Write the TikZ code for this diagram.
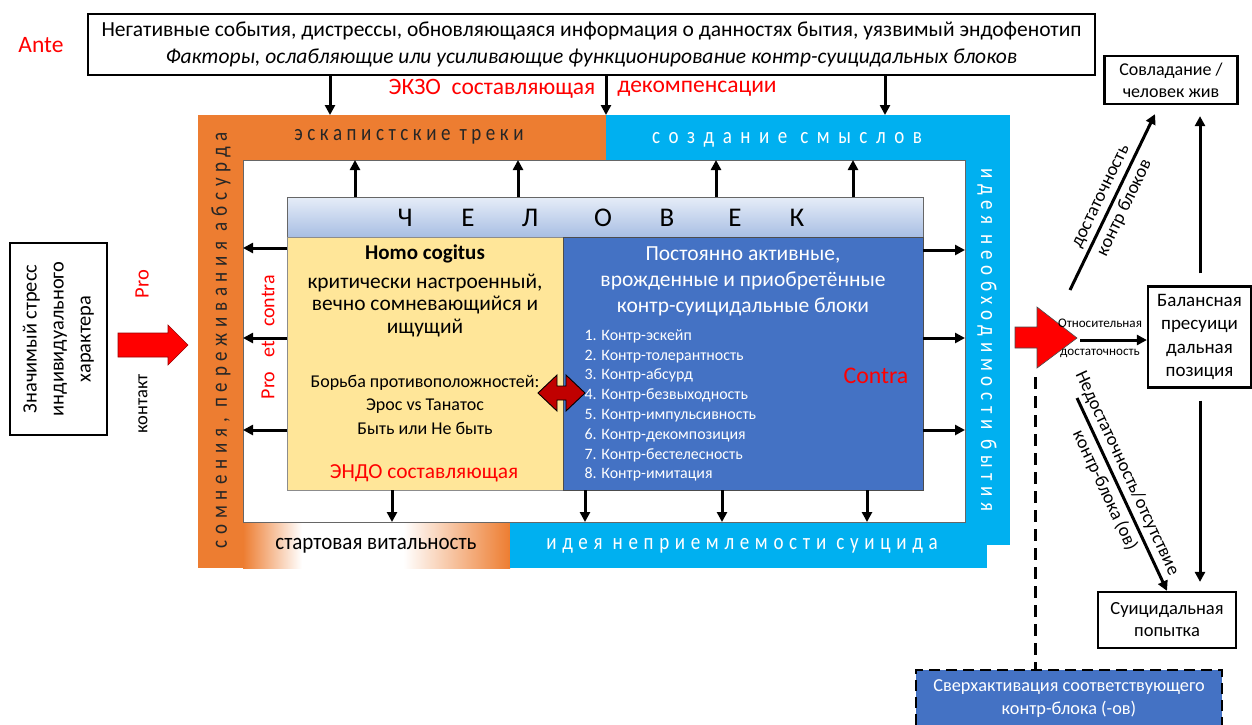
\documentclass[tikz,border=0pt]{standalone}
\usepackage{fontspec}
\setmainfont{Carlito}
\newfontfamily\spaced[LetterSpace=30]{Carlito}
\newfontfamily\spacedn[LetterSpace=24]{Carlito}
\newfontfamily\spacedw[LetterSpace=45]{Carlito}
\usetikzlibrary{arrows.meta}
\definecolor{orng}{HTML}{ED7D31}
\definecolor{cyn}{HTML}{00B0F0}
\definecolor{blu}{HTML}{4472C4}
\definecolor{ylw}{HTML}{FFE699}
\definecolor{hdrtop}{HTML}{E6EDF8}
\definecolor{hdrbot}{HTML}{A8BEE3}
\definecolor{dred}{HTML}{C00000}
\definecolor{bandtxt}{HTML}{262626}
\pgfdeclarehorizontalshading{vitshade}{100bp}{color(0bp)=(orng); color(25bp)=(orng); color(36bp)=(white); color(55bp)=(white); color(75bp)=(orng); color(100bp)=(orng)}
\newcommand\fsz[2]{\fontsize{#1}{#2}\selectfont}
\begin{document}
\begin{tikzpicture}[x=1pt,y=-1pt,
  arr/.style={line width=3pt,-{Triangle[length=10pt,width=10pt]}},
  wbox/.style={draw=black,line width=2.2pt,fill=white,align=center,inner sep=0pt},
  band/.style={inner sep=0pt,outer sep=0pt,draw=none},
  inbox/.style={inner sep=0pt,outer sep=0pt,line width=0.8pt},
  redtxt/.style={text=red},
  spc/.style={font=\spaced\fsz{19}{22}, yscale=1.2},
  spcv/.style={font=\spaced\fsz{19}{22}, xscale=1.2},
  spcn/.style={font=\spacedn\fsz{19}{22}, yscale=1.2},
  spcw/.style={font=\spacedw\fsz{19}{22}, yscale=1.2}]
\useasboundingbox (0,0) rectangle (1252,724);
\fill[white] (0,0) rectangle (1252,724);

% ---------- top box ----------
\node[wbox, minimum width=1007, minimum height=61, font=\fsz{21.5}{27}] (top) at (591.5,44.5)
  {Негативные события, дистрессы, обновляющаяся информация о данностях бытия, уязвимый эндофенотип\\
   \textit{Факторы, ослабляющие или усиливающие функционирование контр-суицидальных блоков}};
\node[redtxt, font=\fsz{23.5}{27}] (ante) at (41,45) {Ante};
\node[redtxt, font=\fsz{23.5}{27}] (exo) at (492,89) {ЭКЗО\ \ составляющая};
\node[redtxt, font=\fsz{23.5}{27}] (decomp) at (697,89) {декомпенсации};

% ---------- frame ----------
\node[band, shading=vitshade, minimum width=267, minimum height=46] (vit) at (376.5,545) {};
\node[band, fill=cyn, minimum width=477, minimum height=46] (idea) at (748.5,545) {};
\node[band, fill=cyn, minimum width=45, minimum height=430] (rband) at (987.5,330) {};
\node[band, fill=orng, minimum width=408, minimum height=45] (esc) at (402,137.5) {};
\node[band, fill=cyn, minimum width=404, minimum height=45] (sense) at (808,137.5) {};
\node[band, fill=orng, minimum width=45, minimum height=453] (lband) at (220.5,341.5) {};
\draw[black!60, line width=0.7pt] (243,160) rectangle (965,522);

\node[spcn, text=bandtxt] (escT) at (409,137) {эскапистские треки};
\node[spcw, text=white] (senseT) at (787,140) {создание смыслов};
\node[spcv, rotate=90, text=bandtxt] (lbandT) at (221,340) {сомнения, переживания абсурда};
\node[spcv, rotate=-90, text=white] (rbandT) at (987,340) {идея необходимости бытия};
\node[spc, text=white] (ideaT) at (742,546) {идея неприемлемости суицида};
\node[font=\fsz{21}{24}, yscale=1.1] (vitT) at (376,546) {стартовая витальность};

% ---------- person ----------
\node[inbox, draw=black!60, top color=hdrtop, bottom color=hdrbot, minimum width=636, minimum height=40] (hdr) at (605,217) {};
\foreach \x/\l [count=\i] in {405/Ч,468/Е,530/Л,603/О,667/В,735/Е,797/К}
  \node[font=\fsz{27}{30}] (hl\i) at (\x,218) {\l};
\node[inbox, draw=black!45, fill=ylw, minimum width=276, minimum height=253] (yel) at (425,363.5) {};
\node[inbox, draw=black!70, fill=blu, minimum width=360, minimum height=253] (blu) at (743,363.5) {};

\node[font=\bfseries\fsz{21}{24}] (homo) at (425,254) {Homo cogitus};
\node[align=center, font=\fsz{21.4}{22.5}] (crit) at (425,305.5) {критически настроенный,\\вечно сомневающийся и\\ищущий};
\node[align=center, font=\fsz{18}{23.5}] (fight) at (425,404.5) {Борьба противоположностей:\\Эрос vs Танатос\\Быть или Не быть};
\node[redtxt, font=\fsz{21.4}{24}] (endo) at (424,473) {ЭНДО составляющая};

\node[align=center, text=white, font=\fsz{21.5}{26}] (blkT) at (743,281) {Постоянно активные,\\врожденные и приобретённые\\контр-суицидальные блоки};
\node[anchor=west, align=left, text=white, font=\fsz{15.9}{19.8}] (list) at (581,405.5)
  {1. Контр-эскейп\\2. Контр-толерантность\\3. Контр-абсурд\\4. Контр-безвыходность\\5. Контр-импульсивность\\6. Контр-декомпозиция\\7. Контр-бестелесность\\8. Контр-имитация};
\node[redtxt, font=\fsz{23.8}{27}] (contra) at (876,376) {Contra};

\fill[dred, draw=black, line width=0.9pt] (538,393) -- (557,375) -- (557,386) -- (566,386) -- (566,375) -- (585,393) -- (566,411) -- (566,400) -- (557,400) -- (557,411) -- cycle;

\node[redtxt, rotate=90, font=\fsz{20}{24}] (proet) at (268,337) {Pro\hspace{14pt}et\hspace{14pt}contra};

% ---------- left ----------
\node[wbox, rotate=90, minimum width=192, minimum height=97, font=\fsz{20.4}{27}] (stress) at (58.5,339) {Значимый стресс\\индивидуального\\характера};
\node[redtxt, rotate=90, font=\fsz{20.5}{24}] (pro) at (142,284) {Pro};
\node[rotate=90, font=\fsz{18.5}{22}] (contact) at (143,404) {контакт};
\fill[red, draw=red!60!black, line width=0.6pt] (118,333) -- (168,333) -- (168,325) -- (188,345) -- (168,365) -- (168,357) -- (118,357) -- cycle;

% ---------- right ----------
\node[wbox, minimum width=133, minimum height=48, font=\fsz{18}{22}] (cope) at (1171,80) {Совладание /\\человек жив};
\node[wbox, minimum width=103, minimum height=101, font=\fsz{19}{23.5}] (bal) at (1199.5,337) {Балансная\\пресуици\\дальная\\позиция};
\node[wbox, minimum width=138, minimum height=56, font=\fsz{18.5}{22}] (att) at (1167,620) {Суицидальная\\попытка};
\node[draw=black, dash pattern=on 11pt off 6pt, line width=2.5pt, fill=blu, text=white, align=center, inner sep=0pt,
      minimum width=306, minimum height=58, font=\fsz{18.3}{23}] (over) at (1069,699) {Сверхактивация соответствующего\\контр-блока (-ов)};

\fill[red, draw=black!70, line width=0.6pt] (1015,327) -- (1037,327) -- (1037,307) -- (1077,338) -- (1037,368) -- (1037,348) -- (1015,348) -- cycle;
\node[font=\fsz{13.1}{15}] (rel1) at (1100,323) {Относительная};
\node[font=\fsz{13.1}{15}] (rel2) at (1100,353) {достаточность};

\coordinate (rtip) at (1080,340);
\coordinate (dup) at (1070,290);
\coordinate (ddown) at (1077,398);
\coordinate (dtop) at (1035,377);

% ---------- connectors ----------
\foreach \x in {330,885} \draw[arr] (top.south -| \x,0) -- (esc.north -| \x,0);
\draw[arr] (top.south -| 606,0) -- (esc.north east);
\foreach \x in {355,518} \draw[arr] (hdr.north -| \x,0) -- (esc.south -| \x,0);
\foreach \x in {716,853} \draw[arr] (hdr.north -| \x,0) -- (sense.south -| \x,0);
\foreach \y in {248,338,430} \draw[arr] (yel.west |- 0,\y) -- (lband.east |- 0,\y);
\foreach \y in {250,338,430} \draw[arr] (blu.east |- 0,\y) -- (rband.west |- 0,\y);
\draw[arr] (yel.south -| 392,0) -- (vit.north -| 392,0);
\foreach \x in {585,722,867} \draw[arr] (blu.south -| \x,0) -- (idea.north -| \x,0);

\draw[arr] (rtip) -- (bal.west |- rtip);
\draw[arr] (dup) -- node[sloped, above, font=\fsz{18.5}{21}, inner sep=4pt] {достаточность}
                   node[sloped, below, font=\fsz{18.5}{21}, inner sep=4pt] {контр блоков}
              ([xshift=-16pt,yshift=-9pt]cope.south);
\draw[arr] ([xshift=0.5pt,yshift=12pt]bal.north) -- ([xshift=29pt,yshift=-11pt]cope.south);
\draw[arr] ([xshift=0.5pt,yshift=-12pt]bal.south) -- ([xshift=33pt,yshift=9pt]att.north);
\draw[arr] (ddown) -- node[sloped, above, pos=0.42, font=\fsz{18.5}{21}, inner sep=4pt] {Недостаточность/отсутствие}
                     node[sloped, below, pos=0.45, font=\fsz{18.5}{21}, inner sep=4pt] {контр-блока (ов)}
              (att.north);
\draw[line width=3pt, dash pattern=on 12pt off 7pt] (dtop) -- (over.north -| dtop);
\end{tikzpicture}
\end{document}
